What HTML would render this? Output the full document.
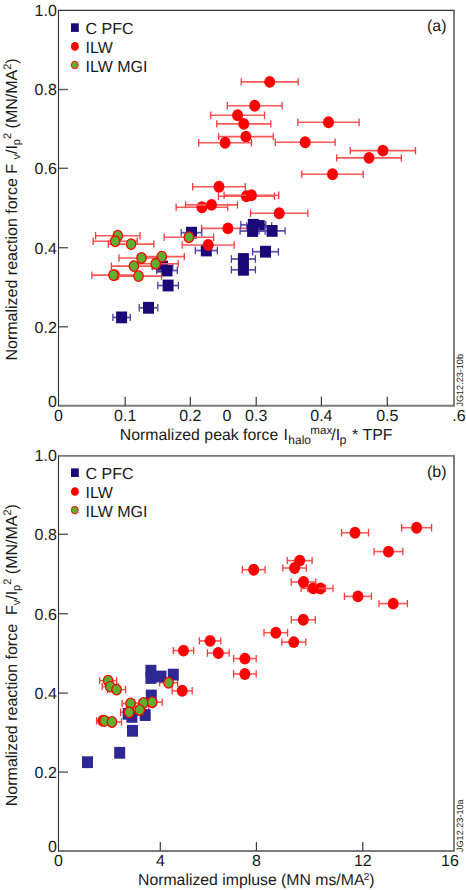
<!DOCTYPE html><html><head><meta charset="utf-8"><style>html,body{margin:0;padding:0;background:#fff;width:466px;height:890px;overflow:hidden}svg{display:block;text-rendering:geometricPrecision}</style></head><body><svg width="466" height="890" viewBox="0 0 466 890" font-family="Liberation Sans, sans-serif" fill="#1a1a1a" font-size="16"><rect width="466" height="890" fill="#fff"/><path d="M58 10.4H455" stroke="#353535" stroke-width="1.2"/><path d="M58 405.8H455" stroke="#7a7a7a" stroke-width="1.9"/><path d="M454 10.4V405.8" stroke="#7a7a7a" stroke-width="1.9"/><path d="M125.2 405.8V396.8" stroke="#3a3a3a" stroke-width="1.2"/><path d="M190.3 405.8V396.8" stroke="#3a3a3a" stroke-width="1.2"/><path d="M256.2 405.8V396.8" stroke="#3a3a3a" stroke-width="1.2"/><path d="M321.4 405.8V396.8" stroke="#3a3a3a" stroke-width="1.2"/><path d="M387.3 405.8V396.8" stroke="#3a3a3a" stroke-width="1.2"/><path d="M58.5 89.5H68" stroke="#5a5a5a" stroke-width="1.4"/><path d="M58.5 168.3H68" stroke="#5a5a5a" stroke-width="1.4"/><path d="M58.5 247.7H68" stroke="#5a5a5a" stroke-width="1.4"/><path d="M58.5 326.8H68" stroke="#5a5a5a" stroke-width="1.4"/><path d="M58.5 9.9V406.3" stroke="#353535" stroke-width="1.15"/><text x="58.5" y="420.5" text-anchor="middle">0</text><text x="125.2" y="420.5" text-anchor="middle">0.1</text><text x="190.3" y="420.5" text-anchor="middle">0.2</text><text x="227" y="420.5" text-anchor="middle">0</text><text x="256.2" y="420.5" text-anchor="middle">0.3</text><text x="321.4" y="420.5" text-anchor="middle">0.4</text><text x="387.3" y="420.5" text-anchor="middle">0.5</text><text x="459" y="420.5" text-anchor="middle">.6</text><text x="56.8" y="15.7" text-anchor="end">1.0</text><text x="56.8" y="95.3" text-anchor="end">0.8</text><text x="56.8" y="174.10000000000002" text-anchor="end">0.6</text><text x="56.8" y="253.5" text-anchor="end">0.4</text><text x="56.8" y="332.6" text-anchor="end">0.2</text><text x="56.8" y="407.3" text-anchor="end">0</text><rect x="71" y="23.3" width="7.8" height="8.6" fill="#1a0878"/><ellipse cx="74.9" cy="46.4" rx="4" ry="4.3" fill="#ff0000"/><ellipse cx="74.8" cy="65" rx="3.45" ry="3.85" fill="#5eae30" stroke="#ff0000" stroke-width="0.9"/><g font-size="16"><text x="85.5" y="33.6">C PFC</text><text x="85.5" y="52.9">ILW</text><text x="85.5" y="72.2">ILW MGI</text></g><text x="446.6" y="31.2" text-anchor="end">(a)</text><path d="M241.2 81.9H298.2" stroke="#ff5a5a" stroke-width="1.6" fill="none"/><path d="M241.2 78.2V85.6M298.2 78.2V85.6" stroke="#ff3a3a" stroke-width="1.3" fill="none"/><ellipse cx="269.7" cy="81.9" rx="5.5" ry="5.95" fill="#ff0000"/><path d="M227.3 105.7H282.1" stroke="#ff5a5a" stroke-width="1.6" fill="none"/><path d="M227.3 102.0V109.4M282.1 102.0V109.4" stroke="#ff3a3a" stroke-width="1.3" fill="none"/><ellipse cx="254.7" cy="105.7" rx="5.5" ry="5.95" fill="#ff0000"/><path d="M210.7 115.2H264.5" stroke="#ff5a5a" stroke-width="1.6" fill="none"/><path d="M210.7 111.5V118.9M264.5 111.5V118.9" stroke="#ff3a3a" stroke-width="1.3" fill="none"/><ellipse cx="237.6" cy="115.2" rx="5.5" ry="5.95" fill="#ff0000"/><path d="M216.8 123.9H270.8" stroke="#ff5a5a" stroke-width="1.6" fill="none"/><path d="M216.8 120.2V127.6M270.8 120.2V127.6" stroke="#ff3a3a" stroke-width="1.3" fill="none"/><ellipse cx="243.8" cy="123.9" rx="5.5" ry="5.95" fill="#ff0000"/><path d="M218.6 136.6H273.2" stroke="#ff5a5a" stroke-width="1.6" fill="none"/><path d="M218.6 132.9V140.3M273.2 132.9V140.3" stroke="#ff3a3a" stroke-width="1.3" fill="none"/><ellipse cx="245.9" cy="136.6" rx="5.5" ry="5.95" fill="#ff0000"/><path d="M198.7 142.8H251.5" stroke="#ff5a5a" stroke-width="1.6" fill="none"/><path d="M198.7 139.1V146.5M251.5 139.1V146.5" stroke="#ff3a3a" stroke-width="1.3" fill="none"/><ellipse cx="225.1" cy="142.8" rx="5.5" ry="5.95" fill="#ff0000"/><path d="M297.9 122.2H359.1" stroke="#ff5a5a" stroke-width="1.6" fill="none"/><path d="M297.9 118.5V125.9M359.1 118.5V125.9" stroke="#ff3a3a" stroke-width="1.3" fill="none"/><ellipse cx="328.5" cy="122.2" rx="5.5" ry="5.95" fill="#ff0000"/><path d="M275.3 142.2H335.1" stroke="#ff5a5a" stroke-width="1.6" fill="none"/><path d="M275.3 138.5V145.9M335.1 138.5V145.9" stroke="#ff3a3a" stroke-width="1.3" fill="none"/><ellipse cx="305.2" cy="142.2" rx="5.5" ry="5.95" fill="#ff0000"/><path d="M350.3 150.6H415.5" stroke="#ff5a5a" stroke-width="1.6" fill="none"/><path d="M350.3 146.9V154.3M415.5 146.9V154.3" stroke="#ff3a3a" stroke-width="1.3" fill="none"/><ellipse cx="382.9" cy="150.6" rx="5.5" ry="5.95" fill="#ff0000"/><path d="M336.7 157.9H401.3" stroke="#ff5a5a" stroke-width="1.6" fill="none"/><path d="M336.7 154.2V161.6M401.3 154.2V161.6" stroke="#ff3a3a" stroke-width="1.3" fill="none"/><ellipse cx="369.0" cy="157.9" rx="5.5" ry="5.95" fill="#ff0000"/><path d="M301.8 174.2H363.2" stroke="#ff5a5a" stroke-width="1.6" fill="none"/><path d="M301.8 170.5V177.9M363.2 170.5V177.9" stroke="#ff3a3a" stroke-width="1.3" fill="none"/><ellipse cx="332.5" cy="174.2" rx="5.5" ry="5.95" fill="#ff0000"/><path d="M250.6 213.3H307.8" stroke="#ff5a5a" stroke-width="1.6" fill="none"/><path d="M250.6 209.6V217.0M307.8 209.6V217.0" stroke="#ff3a3a" stroke-width="1.3" fill="none"/><ellipse cx="279.2" cy="213.3" rx="5.5" ry="5.95" fill="#ff0000"/><path d="M192.7 186.8H245.3" stroke="#ff5a5a" stroke-width="1.6" fill="none"/><path d="M192.7 183.1V190.5M245.3 183.1V190.5" stroke="#ff3a3a" stroke-width="1.3" fill="none"/><ellipse cx="219.0" cy="186.8" rx="5.5" ry="5.95" fill="#ff0000"/><path d="M218.4 196.2H274.4" stroke="#ff5a5a" stroke-width="1.6" fill="none"/><path d="M218.4 192.5V199.9M274.4 192.5V199.9" stroke="#ff3a3a" stroke-width="1.3" fill="none"/><ellipse cx="246.4" cy="196.2" rx="5.5" ry="5.95" fill="#ff0000"/><path d="M224.1 195.3H278.7" stroke="#ff5a5a" stroke-width="1.6" fill="none"/><path d="M224.1 191.6V199.0M278.7 191.6V199.0" stroke="#ff3a3a" stroke-width="1.3" fill="none"/><ellipse cx="251.4" cy="195.3" rx="5.5" ry="5.95" fill="#ff0000"/><path d="M176.1 207.3H227.7" stroke="#ff5a5a" stroke-width="1.6" fill="none"/><path d="M176.1 203.6V211.0M227.7 203.6V211.0" stroke="#ff3a3a" stroke-width="1.3" fill="none"/><ellipse cx="201.9" cy="207.3" rx="5.5" ry="5.95" fill="#ff0000"/><path d="M185.6 204.9H237.4" stroke="#ff5a5a" stroke-width="1.6" fill="none"/><path d="M185.6 201.2V208.6M237.4 201.2V208.6" stroke="#ff3a3a" stroke-width="1.3" fill="none"/><ellipse cx="211.5" cy="204.9" rx="5.5" ry="5.95" fill="#ff0000"/><path d="M201.6 228.4H254.2" stroke="#ff5a5a" stroke-width="1.6" fill="none"/><path d="M201.6 224.7V232.1M254.2 224.7V232.1" stroke="#ff3a3a" stroke-width="1.3" fill="none"/><ellipse cx="227.9" cy="228.4" rx="5.5" ry="5.95" fill="#ff0000"/><path d="M240.8 224.8H265.8" stroke="#5e56aa" stroke-width="1.8" fill="none"/><path d="M240.8 221.1V228.5M265.8 221.1V228.5" stroke="#4a42a0" stroke-width="1.3" fill="none"/><rect x="247.8" y="218.9" width="11" height="11.8" fill="#1a0878"/><path d="M246.7 226.0H271.7" stroke="#5e56aa" stroke-width="1.8" fill="none"/><path d="M246.7 222.3V229.7M271.7 222.3V229.7" stroke="#4a42a0" stroke-width="1.3" fill="none"/><rect x="253.7" y="220.1" width="11" height="11.8" fill="#1a0878"/><path d="M240.1 231.0H265.1" stroke="#5e56aa" stroke-width="1.8" fill="none"/><path d="M240.1 227.3V234.7M265.1 227.3V234.7" stroke="#4a42a0" stroke-width="1.3" fill="none"/><rect x="247.1" y="225.1" width="11" height="11.8" fill="#1a0878"/><path d="M259.1 230.9H285.1" stroke="#5e56aa" stroke-width="1.8" fill="none"/><path d="M259.1 227.2V234.6M285.1 227.2V234.6" stroke="#4a42a0" stroke-width="1.3" fill="none"/><rect x="266.6" y="225.0" width="11" height="11.8" fill="#1a0878"/><path d="M252.6 251.7H278.4" stroke="#5e56aa" stroke-width="1.8" fill="none"/><path d="M252.6 248.0V255.4M278.4 248.0V255.4" stroke="#4a42a0" stroke-width="1.3" fill="none"/><rect x="260.0" y="245.8" width="11" height="11.8" fill="#1a0878"/><path d="M231.4 259.0H255.4" stroke="#5e56aa" stroke-width="1.8" fill="none"/><path d="M231.4 255.3V262.7M255.4 255.3V262.7" stroke="#4a42a0" stroke-width="1.3" fill="none"/><rect x="237.9" y="253.1" width="11" height="11.8" fill="#1a0878"/><path d="M231.4 269.8H255.4" stroke="#5e56aa" stroke-width="1.8" fill="none"/><path d="M231.4 266.1V273.5M255.4 266.1V273.5" stroke="#4a42a0" stroke-width="1.3" fill="none"/><rect x="237.9" y="263.9" width="11" height="11.8" fill="#1a0878"/><path d="M181.2 232.7H201.8" stroke="#5e56aa" stroke-width="1.8" fill="none"/><path d="M181.2 229.0V236.4M201.8 229.0V236.4" stroke="#4a42a0" stroke-width="1.3" fill="none"/><rect x="186.0" y="226.8" width="11" height="11.8" fill="#1a0878"/><path d="M195.3 250.5H217.3" stroke="#5e56aa" stroke-width="1.8" fill="none"/><path d="M195.3 246.8V254.2M217.3 246.8V254.2" stroke="#4a42a0" stroke-width="1.3" fill="none"/><rect x="200.8" y="244.6" width="11" height="11.8" fill="#1a0878"/><path d="M152.2 266.6H172.8" stroke="#5e56aa" stroke-width="1.8" fill="none"/><path d="M152.2 262.9V270.3M172.8 262.9V270.3" stroke="#4a42a0" stroke-width="1.3" fill="none"/><rect x="157.0" y="260.7" width="11" height="11.8" fill="#1a0878"/><path d="M156.7 270.5H177.3" stroke="#5e56aa" stroke-width="1.8" fill="none"/><path d="M156.7 266.8V274.2M177.3 266.8V274.2" stroke="#4a42a0" stroke-width="1.3" fill="none"/><rect x="161.5" y="264.6" width="11" height="11.8" fill="#1a0878"/><path d="M157.8 285.5H178.4" stroke="#5e56aa" stroke-width="1.8" fill="none"/><path d="M157.8 281.8V289.2M178.4 281.8V289.2" stroke="#4a42a0" stroke-width="1.3" fill="none"/><rect x="162.6" y="279.6" width="11" height="11.8" fill="#1a0878"/><path d="M139.2 307.8H157.8" stroke="#5e56aa" stroke-width="1.8" fill="none"/><path d="M139.2 304.1V311.5M157.8 304.1V311.5" stroke="#4a42a0" stroke-width="1.3" fill="none"/><rect x="143.0" y="301.9" width="11" height="11.8" fill="#1a0878"/><path d="M112.9 317.4H130.3" stroke="#5e56aa" stroke-width="1.8" fill="none"/><path d="M112.9 313.7V321.1M130.3 313.7V321.1" stroke="#4a42a0" stroke-width="1.3" fill="none"/><rect x="116.1" y="311.5" width="11" height="11.8" fill="#1a0878"/><path d="M182.2 245.0H234.2" stroke="#ff5a5a" stroke-width="1.6" fill="none"/><path d="M182.2 241.3V248.7M234.2 241.3V248.7" stroke="#ff3a3a" stroke-width="1.3" fill="none"/><ellipse cx="208.2" cy="245.0" rx="5.5" ry="5.95" fill="#ff0000"/><ellipse cx="114.4" cy="275.1" rx="5.6" ry="5.95" fill="#ff0000"/><path d="M95.6 235.7H140.0" stroke="#ff5a5a" stroke-width="1.6" fill="none"/><path d="M95.6 232.0V239.4M140.0 232.0V239.4" stroke="#ff3a3a" stroke-width="1.3" fill="none"/><path d="M93.2 241.3H137.2" stroke="#ff5a5a" stroke-width="1.6" fill="none"/><path d="M93.2 237.6V245.0M137.2 237.6V245.0" stroke="#ff3a3a" stroke-width="1.3" fill="none"/><path d="M108.3 244.1H153.9" stroke="#ff5a5a" stroke-width="1.6" fill="none"/><path d="M108.3 240.4V247.8M153.9 240.4V247.8" stroke="#ff3a3a" stroke-width="1.3" fill="none"/><path d="M119.0 258.0H164.0" stroke="#ff5a5a" stroke-width="1.6" fill="none"/><path d="M119.0 254.3V261.7M164.0 254.3V261.7" stroke="#ff3a3a" stroke-width="1.3" fill="none"/><path d="M139.3 256.6H184.3" stroke="#ff5a5a" stroke-width="1.6" fill="none"/><path d="M139.3 252.9V260.3M184.3 252.9V260.3" stroke="#ff3a3a" stroke-width="1.3" fill="none"/><path d="M133.2 263.8H178.2" stroke="#ff5a5a" stroke-width="1.6" fill="none"/><path d="M133.2 260.1V267.5M178.2 260.1V267.5" stroke="#ff3a3a" stroke-width="1.3" fill="none"/><path d="M111.4 266.1H156.4" stroke="#ff5a5a" stroke-width="1.6" fill="none"/><path d="M111.4 262.4V269.8M156.4 262.4V269.8" stroke="#ff3a3a" stroke-width="1.3" fill="none"/><path d="M91.9 275.1H134.9" stroke="#ff5a5a" stroke-width="1.6" fill="none"/><path d="M91.9 271.4V278.8M134.9 271.4V278.8" stroke="#ff3a3a" stroke-width="1.3" fill="none"/><path d="M115.5 276.1H161.5" stroke="#ff5a5a" stroke-width="1.6" fill="none"/><path d="M115.5 272.4V279.8M161.5 272.4V279.8" stroke="#ff3a3a" stroke-width="1.3" fill="none"/><path d="M164.2 237.2H213.6" stroke="#ff5a5a" stroke-width="1.6" fill="none"/><path d="M164.2 233.5V240.9M213.6 233.5V240.9" stroke="#ff3a3a" stroke-width="1.3" fill="none"/><ellipse cx="117.8" cy="235.7" rx="4.7" ry="5.3" fill="#5eae30" stroke="#ff0000" stroke-width="1.3"/><ellipse cx="115.2" cy="241.3" rx="4.7" ry="5.3" fill="#5eae30" stroke="#ff0000" stroke-width="1.3"/><ellipse cx="131.1" cy="244.1" rx="4.7" ry="5.3" fill="#5eae30" stroke="#ff0000" stroke-width="1.3"/><ellipse cx="141.5" cy="258.0" rx="4.7" ry="5.3" fill="#5eae30" stroke="#ff0000" stroke-width="1.3"/><ellipse cx="161.8" cy="256.6" rx="4.7" ry="5.3" fill="#5eae30" stroke="#ff0000" stroke-width="1.3"/><ellipse cx="155.7" cy="263.8" rx="4.7" ry="5.3" fill="#5eae30" stroke="#ff0000" stroke-width="1.3"/><ellipse cx="133.9" cy="266.1" rx="4.7" ry="5.3" fill="#5eae30" stroke="#ff0000" stroke-width="1.3"/><ellipse cx="113.4" cy="275.1" rx="4.7" ry="5.3" fill="#5eae30" stroke="#ff0000" stroke-width="1.3"/><ellipse cx="138.5" cy="276.1" rx="4.7" ry="5.3" fill="#5eae30" stroke="#ff0000" stroke-width="1.3"/><ellipse cx="188.9" cy="237.2" rx="4.7" ry="5.3" fill="#5eae30" stroke="#ff0000" stroke-width="1.3"/><path d="M58 455.9H455" stroke="#7a7a7a" stroke-width="1.9"/><path d="M58 851H455" stroke="#7a7a7a" stroke-width="1.9"/><path d="M454 455.9V851" stroke="#7a7a7a" stroke-width="1.9"/><path d="M160.3 851V842" stroke="#3a3a3a" stroke-width="1.2"/><path d="M256.4 851V842" stroke="#3a3a3a" stroke-width="1.2"/><path d="M362.8 851V842" stroke="#3a3a3a" stroke-width="1.2"/><path d="M58.5 534.3H68" stroke="#5a5a5a" stroke-width="1.4"/><path d="M58.5 613.7H68" stroke="#5a5a5a" stroke-width="1.4"/><path d="M58.5 693.1H68" stroke="#5a5a5a" stroke-width="1.4"/><path d="M58.5 772.1H68" stroke="#5a5a5a" stroke-width="1.4"/><path d="M58.5 455.4V851.5" stroke="#353535" stroke-width="1.15"/><text x="58.5" y="865.7" text-anchor="middle">0</text><text x="160.5" y="865.7" text-anchor="middle">4</text><text x="256.4" y="865.7" text-anchor="middle">8</text><text x="362.8" y="865.7" text-anchor="middle">12</text><text x="450" y="865.7" text-anchor="middle">16</text><text x="56.8" y="460.7" text-anchor="end">1.0</text><text x="56.8" y="540.0999999999999" text-anchor="end">0.8</text><text x="56.8" y="619.5" text-anchor="end">0.6</text><text x="56.8" y="698.9" text-anchor="end">0.4</text><text x="56.8" y="777.9" text-anchor="end">0.2</text><text x="56.8" y="851.8" text-anchor="end">0</text><rect x="71" y="468.40000000000003" width="7.8" height="8.6" fill="#1a0878"/><ellipse cx="74.9" cy="491.5" rx="4" ry="4.3" fill="#ff0000"/><ellipse cx="74.8" cy="510.1" rx="3.45" ry="3.85" fill="#5eae30" stroke="#ff0000" stroke-width="0.9"/><g font-size="16"><text x="85.5" y="478.70000000000005">C PFC</text><text x="85.5" y="498.0">ILW</text><text x="85.5" y="517.3000000000001">ILW MGI</text></g><text x="446.6" y="476.7" text-anchor="end">(b)</text><path d="M341.5 532.8H368.5" stroke="#ff5a5a" stroke-width="1.6" fill="none"/><path d="M341.5 529.1V536.5M368.5 529.1V536.5" stroke="#ff3a3a" stroke-width="1.3" fill="none"/><ellipse cx="355.0" cy="532.8" rx="5.5" ry="5.95" fill="#ff0000"/><path d="M401.6 527.7H431.6" stroke="#ff5a5a" stroke-width="1.6" fill="none"/><path d="M401.6 524.0V531.4M431.6 524.0V531.4" stroke="#ff3a3a" stroke-width="1.3" fill="none"/><ellipse cx="416.6" cy="527.7" rx="5.5" ry="5.95" fill="#ff0000"/><path d="M374.1 551.6H402.9" stroke="#ff5a5a" stroke-width="1.6" fill="none"/><path d="M374.1 547.9V555.3M402.9 547.9V555.3" stroke="#ff3a3a" stroke-width="1.3" fill="none"/><ellipse cx="388.5" cy="551.6" rx="5.5" ry="5.95" fill="#ff0000"/><path d="M344.4 596.4H371.4" stroke="#ff5a5a" stroke-width="1.6" fill="none"/><path d="M344.4 592.7V600.1M371.4 592.7V600.1" stroke="#ff3a3a" stroke-width="1.3" fill="none"/><ellipse cx="357.9" cy="596.4" rx="5.5" ry="5.95" fill="#ff0000"/><path d="M307.8 588.5H333.0" stroke="#ff5a5a" stroke-width="1.6" fill="none"/><path d="M307.8 584.8V592.2M333.0 584.8V592.2" stroke="#ff3a3a" stroke-width="1.3" fill="none"/><ellipse cx="320.4" cy="588.5" rx="5.5" ry="5.95" fill="#ff0000"/><path d="M301.1 588.4H325.5" stroke="#ff5a5a" stroke-width="1.6" fill="none"/><path d="M301.1 584.7V592.1M325.5 584.7V592.1" stroke="#ff3a3a" stroke-width="1.3" fill="none"/><ellipse cx="313.3" cy="588.4" rx="5.5" ry="5.95" fill="#ff0000"/><path d="M291.2 582.0H315.8" stroke="#ff5a5a" stroke-width="1.6" fill="none"/><path d="M291.2 578.3V585.7M315.8 578.3V585.7" stroke="#ff3a3a" stroke-width="1.3" fill="none"/><ellipse cx="303.5" cy="582.0" rx="5.5" ry="5.95" fill="#ff0000"/><path d="M291.3 619.8H315.3" stroke="#ff5a5a" stroke-width="1.6" fill="none"/><path d="M291.3 616.1V623.5M315.3 616.1V623.5" stroke="#ff3a3a" stroke-width="1.3" fill="none"/><ellipse cx="303.3" cy="619.8" rx="5.5" ry="5.95" fill="#ff0000"/><path d="M242.3 569.7H265.1" stroke="#ff5a5a" stroke-width="1.6" fill="none"/><path d="M242.3 566.0V573.4M265.1 566.0V573.4" stroke="#ff3a3a" stroke-width="1.3" fill="none"/><ellipse cx="253.7" cy="569.7" rx="5.5" ry="5.95" fill="#ff0000"/><path d="M287.3 560.6H312.1" stroke="#ff5a5a" stroke-width="1.6" fill="none"/><path d="M287.3 556.9V564.3M312.1 556.9V564.3" stroke="#ff3a3a" stroke-width="1.3" fill="none"/><ellipse cx="299.7" cy="560.6" rx="5.5" ry="5.95" fill="#ff0000"/><path d="M282.8 568.0H306.4" stroke="#ff5a5a" stroke-width="1.6" fill="none"/><path d="M282.8 564.3V571.7M306.4 564.3V571.7" stroke="#ff3a3a" stroke-width="1.3" fill="none"/><ellipse cx="294.6" cy="568.0" rx="5.5" ry="5.95" fill="#ff0000"/><path d="M264.0 632.7H287.6" stroke="#ff5a5a" stroke-width="1.6" fill="none"/><path d="M264.0 629.0V636.4M287.6 629.0V636.4" stroke="#ff3a3a" stroke-width="1.3" fill="none"/><ellipse cx="275.8" cy="632.7" rx="5.5" ry="5.95" fill="#ff0000"/><path d="M281.8 642.1H305.8" stroke="#ff5a5a" stroke-width="1.6" fill="none"/><path d="M281.8 638.4V645.8M305.8 638.4V645.8" stroke="#ff3a3a" stroke-width="1.3" fill="none"/><ellipse cx="293.8" cy="642.1" rx="5.5" ry="5.95" fill="#ff0000"/><path d="M233.6 658.6H256.2" stroke="#ff5a5a" stroke-width="1.6" fill="none"/><path d="M233.6 654.9V662.3M256.2 654.9V662.3" stroke="#ff3a3a" stroke-width="1.3" fill="none"/><ellipse cx="244.9" cy="658.6" rx="5.5" ry="5.95" fill="#ff0000"/><path d="M233.6 674.0H256.2" stroke="#ff5a5a" stroke-width="1.6" fill="none"/><path d="M233.6 670.3V677.7M256.2 670.3V677.7" stroke="#ff3a3a" stroke-width="1.3" fill="none"/><ellipse cx="244.9" cy="674.0" rx="5.5" ry="5.95" fill="#ff0000"/><path d="M199.4 640.9H220.8" stroke="#ff5a5a" stroke-width="1.6" fill="none"/><path d="M199.4 637.2V644.6M220.8 637.2V644.6" stroke="#ff3a3a" stroke-width="1.3" fill="none"/><ellipse cx="210.1" cy="640.9" rx="5.5" ry="5.95" fill="#ff0000"/><path d="M207.4 653.0H229.2" stroke="#ff5a5a" stroke-width="1.6" fill="none"/><path d="M207.4 649.3V656.7M229.2 649.3V656.7" stroke="#ff3a3a" stroke-width="1.3" fill="none"/><ellipse cx="218.3" cy="653.0" rx="5.5" ry="5.95" fill="#ff0000"/><path d="M173.3 650.6H193.7" stroke="#ff5a5a" stroke-width="1.6" fill="none"/><path d="M173.3 646.9V654.3M193.7 646.9V654.3" stroke="#ff3a3a" stroke-width="1.3" fill="none"/><ellipse cx="183.5" cy="650.6" rx="5.5" ry="5.95" fill="#ff0000"/><path d="M172.2 690.8H192.2" stroke="#ff5a5a" stroke-width="1.6" fill="none"/><path d="M172.2 687.1V694.5M192.2 687.1V694.5" stroke="#ff3a3a" stroke-width="1.3" fill="none"/><ellipse cx="182.2" cy="690.8" rx="5.5" ry="5.95" fill="#ff0000"/><path d="M379.0 603.6H407.4" stroke="#ff5a5a" stroke-width="1.6" fill="none"/><path d="M379.0 599.9V607.3M407.4 599.9V607.3" stroke="#ff3a3a" stroke-width="1.3" fill="none"/><ellipse cx="393.2" cy="603.6" rx="5.5" ry="5.95" fill="#ff0000"/><path d="M159.6 682.7H177.6" stroke="#ff5a5a" stroke-width="1.6" fill="none"/><path d="M159.6 679.0V686.4M177.6 679.0V686.4" stroke="#ff3a3a" stroke-width="1.3" fill="none"/><path d="M99.6 680.6H116.6" stroke="#ff5a5a" stroke-width="1.6" fill="none"/><path d="M99.6 676.9V684.3M116.6 676.9V684.3" stroke="#ff3a3a" stroke-width="1.3" fill="none"/><path d="M102.2 686.6H118.2" stroke="#ff5a5a" stroke-width="1.6" fill="none"/><path d="M102.2 682.9V690.3M118.2 682.9V690.3" stroke="#ff3a3a" stroke-width="1.3" fill="none"/><path d="M107.6 689.6H125.6" stroke="#ff5a5a" stroke-width="1.6" fill="none"/><path d="M107.6 685.9V693.3M125.6 685.9V693.3" stroke="#ff3a3a" stroke-width="1.3" fill="none"/><path d="M122.1 703.5H139.1" stroke="#ff5a5a" stroke-width="1.6" fill="none"/><path d="M122.1 699.8V707.2M139.1 699.8V707.2" stroke="#ff3a3a" stroke-width="1.3" fill="none"/><path d="M134.5 703.0H152.5" stroke="#ff5a5a" stroke-width="1.6" fill="none"/><path d="M134.5 699.3V706.7M152.5 699.3V706.7" stroke="#ff3a3a" stroke-width="1.3" fill="none"/><path d="M142.2 702.2H162.2" stroke="#ff5a5a" stroke-width="1.6" fill="none"/><path d="M142.2 698.5V705.9M162.2 698.5V705.9" stroke="#ff3a3a" stroke-width="1.3" fill="none"/><path d="M120.6 712.3H137.6" stroke="#ff5a5a" stroke-width="1.6" fill="none"/><path d="M120.6 708.6V716.0M137.6 708.6V716.0" stroke="#ff3a3a" stroke-width="1.3" fill="none"/><path d="M130.7 710.0H148.7" stroke="#ff5a5a" stroke-width="1.6" fill="none"/><path d="M130.7 706.3V713.7M148.7 706.3V713.7" stroke="#ff3a3a" stroke-width="1.3" fill="none"/><path d="M96.6 720.9H112.6" stroke="#ff5a5a" stroke-width="1.6" fill="none"/><path d="M96.6 717.2V724.6M112.6 717.2V724.6" stroke="#ff3a3a" stroke-width="1.3" fill="none"/><path d="M102.5 722.0H121.5" stroke="#ff5a5a" stroke-width="1.6" fill="none"/><path d="M102.5 718.3V725.7M121.5 718.3V725.7" stroke="#ff3a3a" stroke-width="1.3" fill="none"/><ellipse cx="102.9" cy="720.8" rx="5.5" ry="5.95" fill="#ff0000"/><rect x="145.4" y="664.8" width="11" height="11.8" fill="#2d2894"/><rect x="145.4" y="672.1" width="11" height="11.8" fill="#2d2894"/><rect x="155.5" y="670.6" width="11" height="11.8" fill="#2d2894"/><rect x="167.8" y="668.7" width="11" height="11.8" fill="#2d2894"/><rect x="145.8" y="689.6" width="11" height="11.8" fill="#2d2894"/><rect x="122.7" y="707.9" width="11" height="11.8" fill="#2d2894"/><rect x="126.4" y="711.0" width="11" height="11.8" fill="#2d2894"/><rect x="139.7" y="709.2" width="11" height="11.8" fill="#2d2894"/><rect x="127.0" y="724.9" width="11" height="11.8" fill="#2d2894"/><rect x="114.2" y="746.9" width="11" height="11.8" fill="#2d2894"/><rect x="82.0" y="756.3" width="11" height="11.8" fill="#2d2894"/><ellipse cx="168.6" cy="682.7" rx="4.7" ry="5.3" fill="#5eae30" stroke="#ff0000" stroke-width="1.3"/><ellipse cx="108.1" cy="680.6" rx="4.7" ry="5.3" fill="#5eae30" stroke="#ff0000" stroke-width="1.3"/><ellipse cx="110.2" cy="686.6" rx="4.7" ry="5.3" fill="#5eae30" stroke="#ff0000" stroke-width="1.3"/><ellipse cx="116.6" cy="689.6" rx="4.7" ry="5.3" fill="#5eae30" stroke="#ff0000" stroke-width="1.3"/><ellipse cx="130.6" cy="703.5" rx="4.7" ry="5.3" fill="#5eae30" stroke="#ff0000" stroke-width="1.3"/><ellipse cx="143.5" cy="703.0" rx="4.7" ry="5.3" fill="#5eae30" stroke="#ff0000" stroke-width="1.3"/><ellipse cx="152.2" cy="702.2" rx="4.7" ry="5.3" fill="#5eae30" stroke="#ff0000" stroke-width="1.3"/><ellipse cx="129.1" cy="712.3" rx="4.7" ry="5.3" fill="#5eae30" stroke="#ff0000" stroke-width="1.3"/><ellipse cx="139.7" cy="710.0" rx="4.7" ry="5.3" fill="#5eae30" stroke="#ff0000" stroke-width="1.3"/><ellipse cx="104.6" cy="720.9" rx="4.7" ry="5.3" fill="#5eae30" stroke="#ff0000" stroke-width="1.3"/><ellipse cx="112.0" cy="722.0" rx="4.7" ry="5.3" fill="#5eae30" stroke="#ff0000" stroke-width="1.3"/><text x="119.8" y="439.6" font-size="15.85">Normalized peak force <tspan x="283.6" font-size="16">I</tspan><tspan x="288.3" font-size="12" dy="4.4">halo</tspan><tspan x="310.3" font-size="11.6" dy="-10.2">max</tspan><tspan x="331.2" font-size="16" dy="5.8">/I</tspan><tspan x="339.6" font-size="12.5" dy="4.4">p</tspan><tspan x="352" font-size="16" dy="-4.4">* TPF</tspan></text><text x="138" y="884.6" font-size="15.8">Normalized impluse (MN ms/MA<tspan font-size="10" dx="-0.8" dy="-4.5">2</tspan><tspan dy="4.5">)</tspan></text><text transform="translate(17.3 360.5) rotate(-90)" font-size="16">Normalized reaction force F <tspan font-size="11" dy="3">v</tspan><tspan dy="-3">/I</tspan><tspan font-size="11" dy="3">p</tspan><tspan font-size="11" dy="-9">2</tspan><tspan dy="6"> (MN/MA</tspan><tspan font-size="11" dy="-6">2</tspan><tspan dy="6">)</tspan></text><text transform="translate(17.3 806.2) rotate(-90)" font-size="16">Normalized reaction force <tspan dx="4.4">F</tspan><tspan font-size="11" dy="3">v</tspan><tspan dy="-3">/I</tspan><tspan font-size="11" dy="3">p</tspan><tspan font-size="11" dy="-9">2</tspan><tspan dy="6"> (MN/MA</tspan><tspan font-size="11" dy="-6">2</tspan><tspan dy="6">)</tspan></text><text transform="translate(463 406.6) rotate(-90)" font-size="9.1">JG12.23-10b</text><text transform="translate(463 852) rotate(-90)" font-size="9.1">JG12.23-10a</text></svg></body></html>
